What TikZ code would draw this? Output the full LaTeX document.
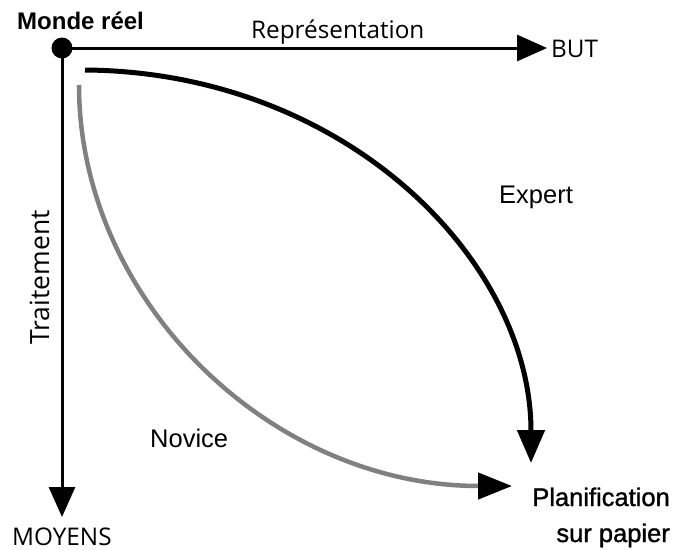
\documentclass[tikz,border=0pt]{standalone}
\usepackage{fontspec}
\setmainfont{Open Sans}
\newfontfamily\arialf{Liberation Sans}
\newfontfamily\arialsemi[FakeBold=1.2]{Liberation Sans}
\usetikzlibrary{arrows.meta}
\definecolor{novgray}{RGB}{128,128,128}
\tikzset{
  lbl/.style={inner sep=0pt, font=\fontsize{24.3}{28}\selectfont},
  lblarial/.style={inner sep=0pt, font=\arialf\fontsize{25.5}{30}\selectfont},
  axis/.style={line width=3pt, -{Triangle[length=30pt,width=26pt]}},
  expert/.style={line width=5pt, -{Triangle[length=33pt,width=27pt]}},
  novice/.style={line width=4.5pt, novgray, -{Triangle[length=34pt,width=26pt,black]}},
}
\begin{document}
\begin{tikzpicture}[x=1pt,y=-1pt]
\useasboundingbox (0,0) rectangle (674,549);
% origin dot
\node (mr) [circle, fill=black, minimum size=21pt, inner sep=0pt] at (62,48) {};
\coordinate (butTip) at (547,48);
\coordinate (moyTip) at (62,517);
\coordinate (expStart) at (85,70);
\coordinate (expTip) at (531,463);
\coordinate (novStart) at (79,85);
\coordinate (novTip) at (512,486);
% labels
\node (monde) [inner sep=0pt, anchor=base west, font=\arialf\bfseries\fontsize{24}{28}\selectfont] at (17,29) {Monde réel};
\node (repr) [lbl, anchor=base west] at (251,38) {Représentation};
\node (but) [lbl, anchor=base west] at (551,57) {BUT};
\node (moy) [lbl, anchor=base west] at (12,545) {MOYENS};
\node (trait) [lbl, font=\fontsize{26.5}{30}\selectfont, rotate=90, anchor=base west] at (49,345) {Traitement};
\node (expl) [lblarial, anchor=base west] at (499,203) {Expert};
\node (novl) [lblarial, anchor=base west] at (150,447) {Novice};
\node (plan) [inner sep=0pt, anchor=base east, align=right, font=\arialsemi\fontsize{25.5}{36}\selectfont] at (670,542) {Planification\\sur papier};
% axes
\draw[axis] (mr.center) -- (butTip);
\draw[axis] (mr.center) -- (moyTip);
% curves
\draw[expert] (expStart) .. controls (345,72) and (531,260) .. (expTip);
\draw[novice] (novStart) .. controls (79,300) and (270,486) .. (novTip);
\end{tikzpicture}
\end{document}
